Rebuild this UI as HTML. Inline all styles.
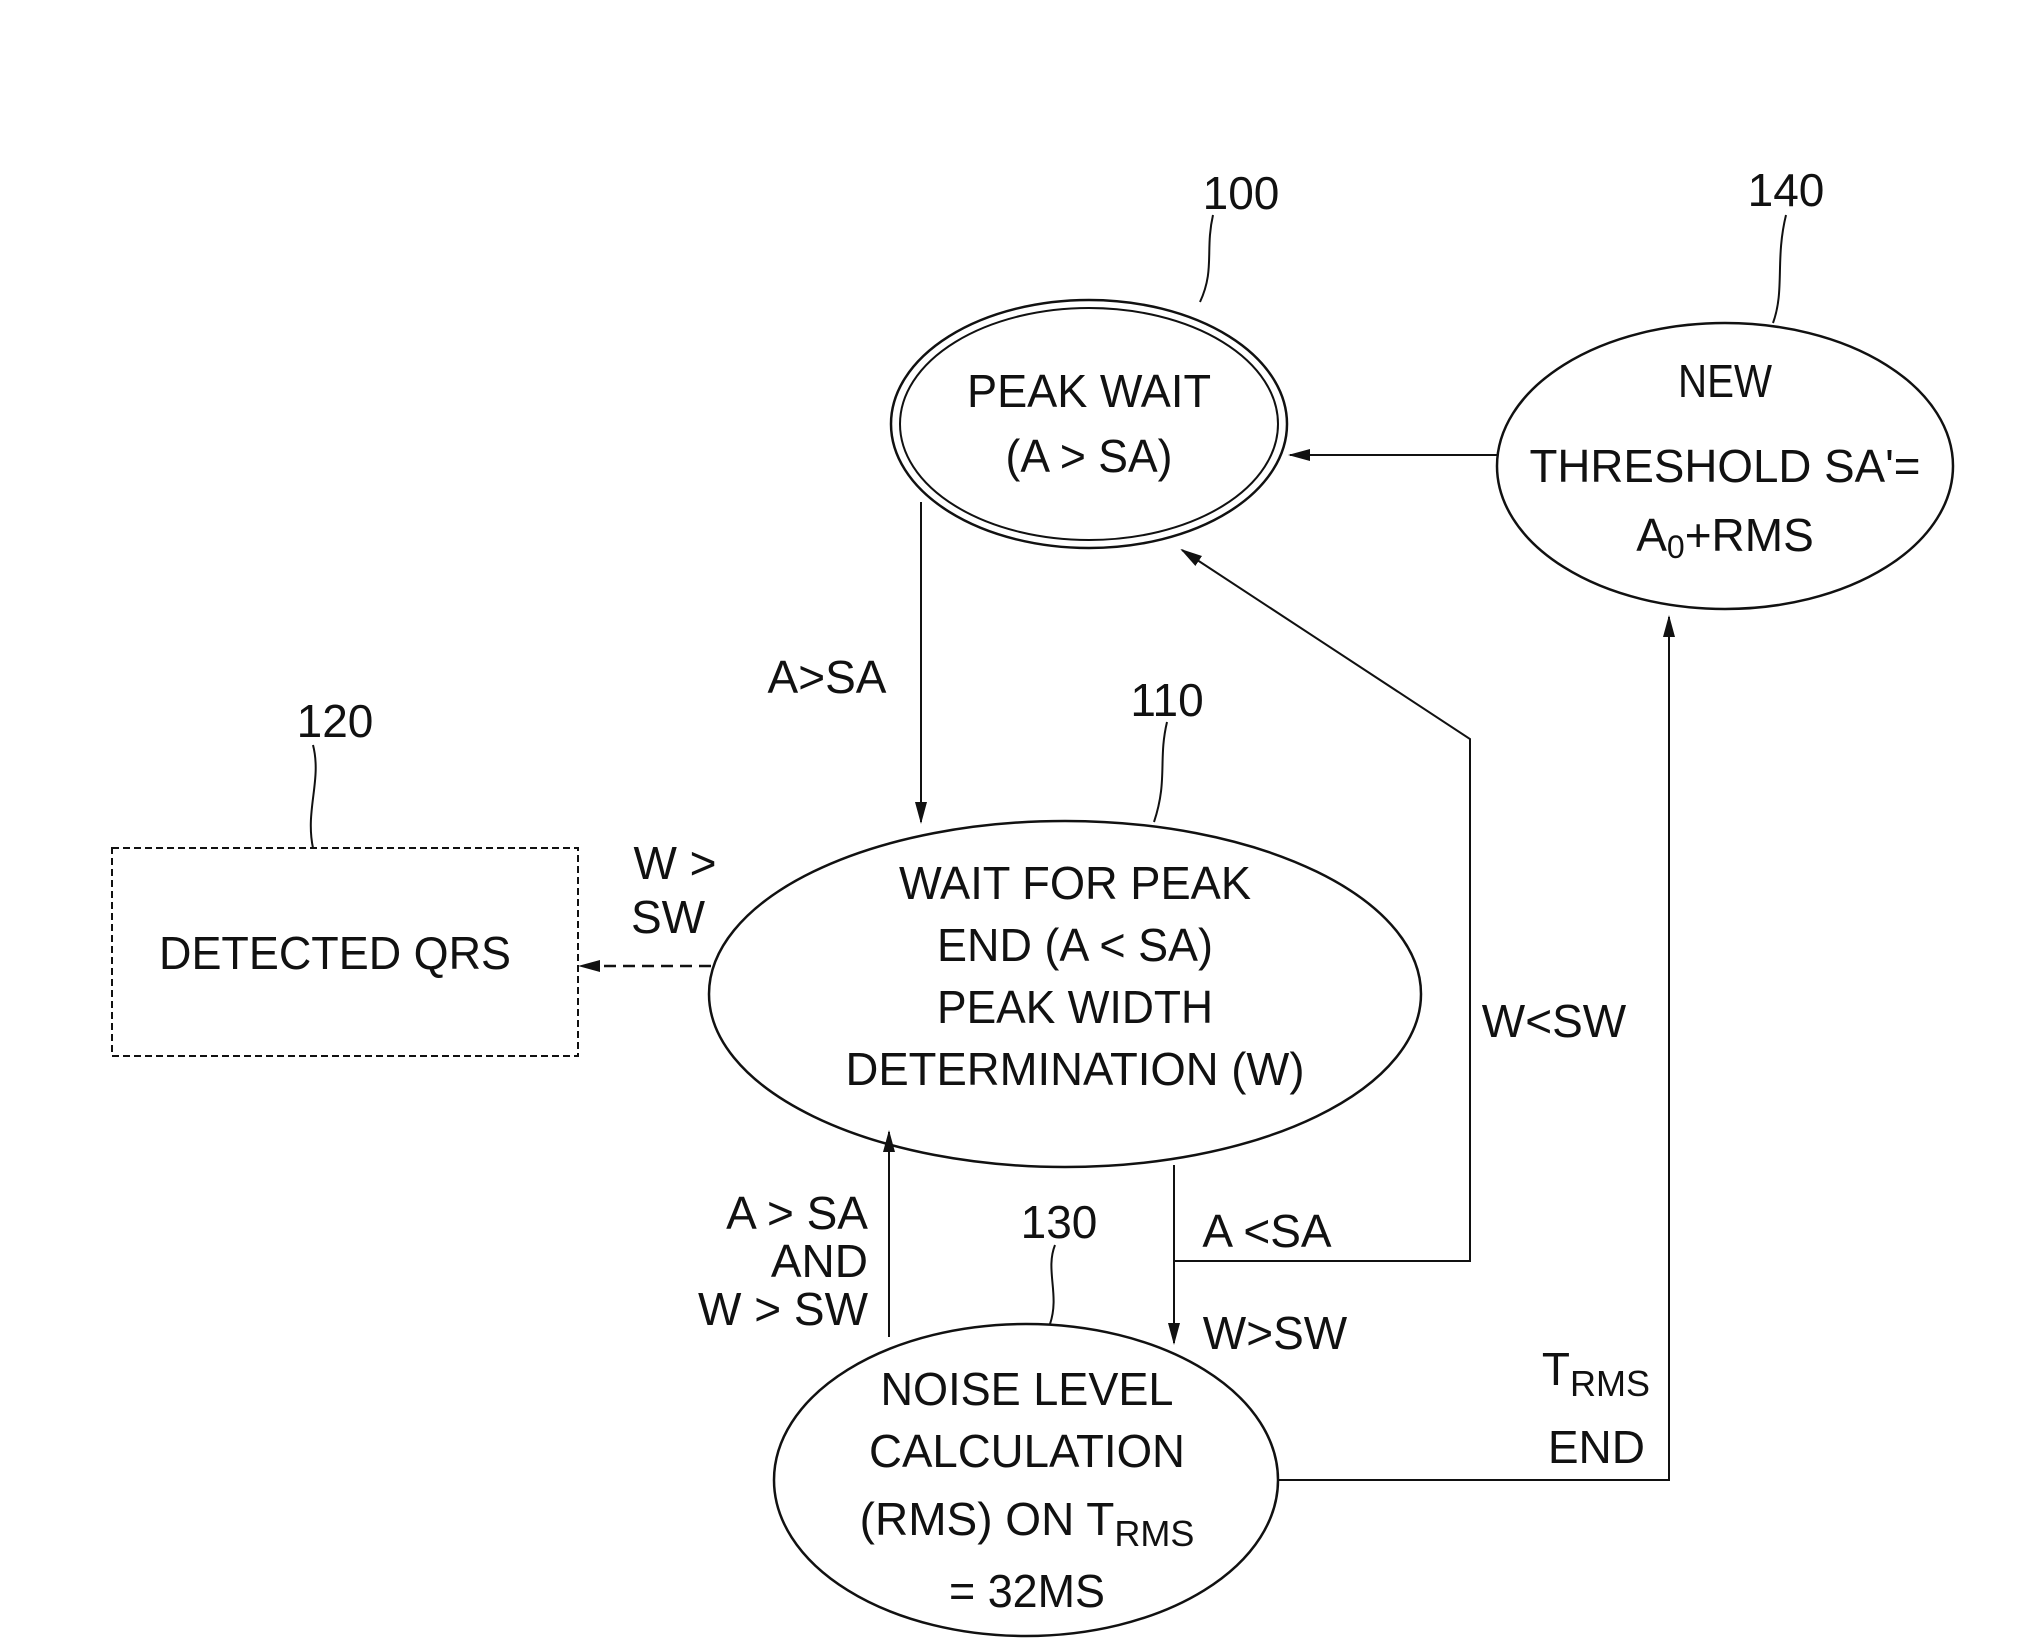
<!DOCTYPE html>
<html><head><meta charset="utf-8"><style>html,body{margin:0;padding:0;background:#fff}svg{display:block}</style></head>
<body>
<svg width="2035" height="1638" viewBox="0 0 2035 1638" xmlns="http://www.w3.org/2000/svg" font-family="'Liberation Sans', sans-serif" fill="#111">
<defs>
<marker id="ah" markerWidth="10" markerHeight="10" refX="9" refY="5" orient="auto" markerUnits="userSpaceOnUse"><path d="M0,1 L10,5 L0,9 z" fill="#111"/></marker>
<marker id="ah2" markerWidth="22" markerHeight="14" refX="20" refY="7" orient="auto" markerUnits="userSpaceOnUse"><path d="M0,1 L22,7 L0,13 z" fill="#111"/></marker>
</defs>
<g fill="none" stroke="#111" stroke-width="2.5">
<ellipse cx="1089" cy="424" rx="198" ry="124"/>
<ellipse cx="1089" cy="424" rx="189" ry="116" stroke-width="2"/>
<ellipse cx="1725" cy="466" rx="228" ry="143"/>
<ellipse cx="1065" cy="994" rx="356" ry="173"/>
<ellipse cx="1026" cy="1480" rx="252" ry="156"/>
<rect x="112" y="848" width="466" height="208" stroke-dasharray="7,4" stroke-width="2"/>
<!-- connectors -->
<line x1="921" y1="502" x2="921" y2="822" stroke-width="2" marker-end="url(#ah2)"/>
<line x1="1497" y1="455" x2="1290" y2="455" stroke-width="2" marker-end="url(#ah2)"/>
<polyline points="1174,1165 1174,1261 1470,1261 1470,739 1182,550" stroke-width="2" marker-end="url(#ah2)"/>
<line x1="1174" y1="1261" x2="1174" y2="1343" stroke-width="2" marker-end="url(#ah2)"/>
<line x1="889" y1="1337" x2="889" y2="1132" stroke-width="2" marker-end="url(#ah2)"/>
<polyline points="1278,1480 1669,1480 1669,617" stroke-width="2" marker-end="url(#ah2)"/>
<line x1="711" y1="966" x2="580" y2="966" stroke-width="2.5" stroke-dasharray="12,7" marker-end="url(#ah2)"/>
<!-- leaders -->
<path d="M1213,215 C1205,250 1215,270 1200,302" stroke-width="2"/>
<path d="M1786,215 C1775,260 1785,290 1773,323" stroke-width="2"/>
<path d="M1167,722 C1158,760 1168,780 1154,822" stroke-width="2"/>
<path d="M313,745 C322,780 305,810 313,848" stroke-width="2"/>
<path d="M1055,1245 C1045,1270 1060,1295 1050,1324" stroke-width="2"/>
</g>
<g font-size="46" text-anchor="middle" dominant-baseline="central">
<text x="1089" y="391" textLength="244" lengthAdjust="spacingAndGlyphs">PEAK WAIT</text>
<text x="1089" y="456" textLength="167" lengthAdjust="spacingAndGlyphs">(A &gt; SA)</text>
<text x="1725" y="381" textLength="94" lengthAdjust="spacingAndGlyphs">NEW</text>
<text x="1725" y="466" textLength="391" lengthAdjust="spacingAndGlyphs">THRESHOLD SA'=</text>
<text x="1725" y="535">A<tspan font-size="32" dy="12">0</tspan><tspan dy="-12">+RMS</tspan></text>
<text x="1075" y="883" textLength="352" lengthAdjust="spacingAndGlyphs">WAIT FOR PEAK</text>
<text x="1075" y="945" textLength="276" lengthAdjust="spacingAndGlyphs">END (A &lt; SA)</text>
<text x="1075" y="1007" textLength="276" lengthAdjust="spacingAndGlyphs">PEAK WIDTH</text>
<text x="1075" y="1069" textLength="459" lengthAdjust="spacingAndGlyphs">DETERMINATION (W)</text>
<text x="335" y="953" textLength="352" lengthAdjust="spacingAndGlyphs">DETECTED QRS</text>
<text x="1027" y="1389" textLength="293" lengthAdjust="spacingAndGlyphs">NOISE LEVEL</text>
<text x="1027" y="1451" textLength="316" lengthAdjust="spacingAndGlyphs">CALCULATION</text>
<text x="1027" y="1519">(RMS) ON T<tspan font-size="36" dy="14">RMS</tspan></text>
<text x="1027" y="1591" textLength="156" lengthAdjust="spacingAndGlyphs">= 32MS</text>
<!-- ref numbers -->
<text x="1241" y="193">100</text>
<text x="1786" y="190">140</text>
<text x="1167" y="700">110</text>
<text x="335" y="721">120</text>
<text x="1059" y="1222">130</text>
<!-- edge labels -->
<text x="827" y="677">A&gt;SA</text>
<text x="675" y="863">W &gt;</text>
<text x="668" y="917">SW</text>
<text x="1554" y="1021">W&lt;SW</text>
<text x="1267" y="1231">A &lt;SA</text>
<text x="1275" y="1333">W&gt;SW</text>
</g>
<g font-size="46" text-anchor="end" dominant-baseline="central">
<text x="868" y="1213">A &gt; SA</text>
<text x="868" y="1261">AND</text>
<text x="868" y="1309">W &gt; SW</text>
<text x="1650" y="1369">T<tspan font-size="36" dy="14">RMS</tspan></text>
<text x="1645" y="1447">END</text>
</g>
</svg>
</body></html>
